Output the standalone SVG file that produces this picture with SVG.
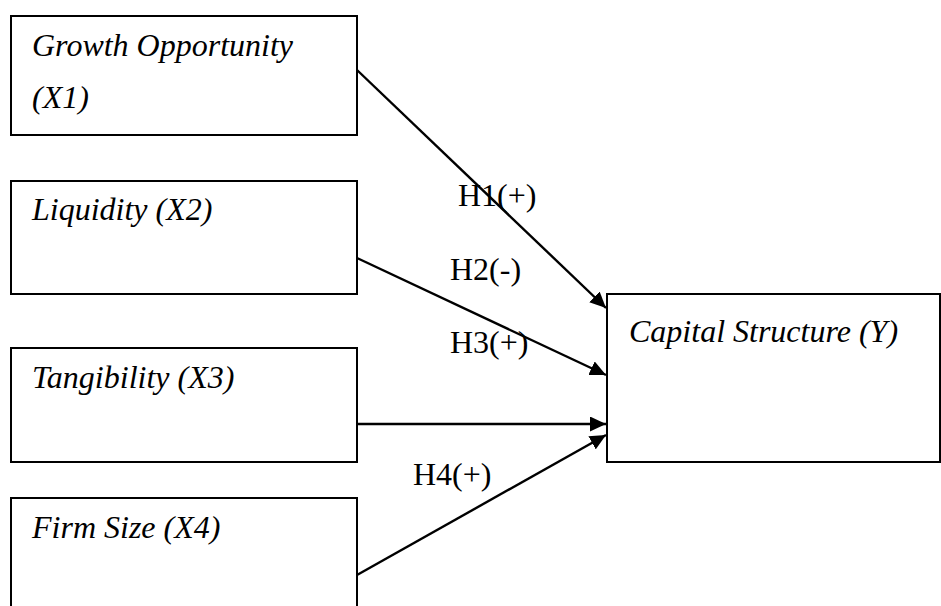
<svg xmlns="http://www.w3.org/2000/svg" width="941" height="606" viewBox="0 0 941 606">
<style>
.box{fill:#fff;stroke:#000;stroke-width:2}
.t{font-family:"Liberation Serif","Times New Roman",serif;font-style:italic;font-size:32px;fill:#000}
.h{font-family:"Liberation Serif","Times New Roman",serif;font-size:32px;fill:#000}
.c{stroke:#000;stroke-width:2.4;fill:none;marker-end:url(#ah)}
</style>
<defs>
<marker id="ah" viewBox="0 0 16 15" refX="16" refY="7.5" markerWidth="16" markerHeight="15" markerUnits="userSpaceOnUse" orient="auto">
<path d="M0,0 L16,7.5 L0,15 Z" fill="#000"/>
</marker>
</defs>
<rect width="941" height="606" fill="#fff"/>
<g id="x1"><rect class="box" x="11" y="16" width="346" height="119"/><text class="t" x="32" y="56">Growth Opportunity</text><text class="t" x="32" y="108">(X1)</text></g>
<g id="x2"><rect class="box" x="11" y="181" width="346" height="113"/><text class="t" x="32" y="220">Liquidity (X2)</text></g>
<g id="x3"><rect class="box" x="11" y="348" width="346" height="114"/><text class="t" x="32" y="388">Tangibility (X3)</text></g>
<g id="x4"><rect class="box" x="11" y="498" width="346" height="130"/><text class="t" x="32" y="538">Firm Size (X4)</text></g>
<g id="y"><rect class="box" x="607" y="294" width="333" height="168"/><text class="t" x="629" y="342">Capital Structure (Y)</text></g>
<g id="connectors">
<line class="c" x1="357" y1="70" x2="606" y2="308"/>
<line class="c" x1="357" y1="258" x2="606" y2="375"/>
<line class="c" x1="357" y1="424" x2="606" y2="424"/>
<line class="c" x1="357" y1="575" x2="606" y2="435"/>
<text class="h" x="458" y="206">H1(+)</text>
<text class="h" x="450" y="280">H2(-)</text>
<text class="h" x="450" y="353">H3(+)</text>
<text class="h" x="413" y="485">H4(+)</text>
</g>
</svg>
